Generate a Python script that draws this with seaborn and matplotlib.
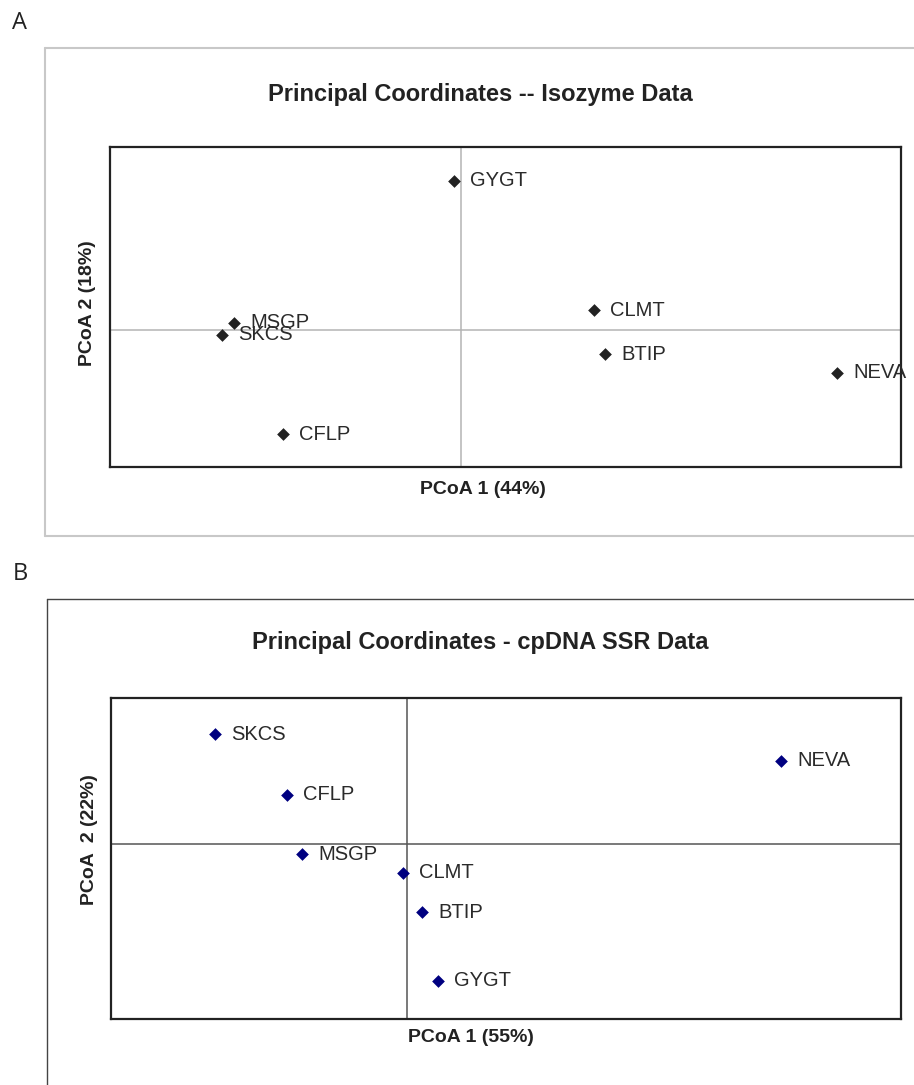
import numpy as np
import pandas as pd
import matplotlib
matplotlib.use("Agg")
import matplotlib.pyplot as plt
import seaborn as sns
from matplotlib.lines import Line2D

# Panel A -- isozyme data (PCoA scores, arbitrary units)
iso_sites = ["GYGT", "CLMT", "MSGP", "SKCS", "BTIP", "NEVA", "CFLP"]
iso_pc1 = [-0.007, 0.133, -0.227, -0.239, 0.144, 0.376, -0.178]
iso_pc2 = [0.149, 0.020, 0.007, -0.005, -0.024, -0.043, -0.104]

# Panel B -- cpDNA SSR data
ssr_sites = ["SKCS", "NEVA", "CFLP", "MSGP", "CLMT", "BTIP", "GYGT"]
ssr_pc1 = [-0.192, 0.374, -0.120, -0.105, -0.004, 0.015, 0.031]
ssr_pc2 = [0.110, 0.083, 0.049, -0.010, -0.029, -0.068, -0.137]

titles = ["Principal Coordinates -- Isozyme Data", "Principal Coordinates - cpDNA SSR Data"]
xlabels = ["PCoA 1 (44%)", "PCoA 1 (55%)"]
ylabels = ["PCoA 2 (18%)", "PCoA  2 (22%)"]

sns.set_theme(style="white")
plt.rcParams['font.family'] = ['Liberation Sans', 'DejaVu Sans']

W, H = 914, 1085
fig = plt.figure(figsize=(W / 100, H / 100), dpi=100)


def px(x, y):
    # pixel position in the picture -> figure fraction
    return x / W, 1 - y / H


def draw_panel(rect, sites, pc1, pc2, xlim, ylim, color, cross_color):
    ax = fig.add_axes(rect)
    df = pd.DataFrame({"site": sites, "pc1": pc1, "pc2": pc2})
    ax.axhline(0, color=cross_color, lw=1.1, zorder=1)
    ax.axvline(0, color=cross_color, lw=1.1, zorder=1)
    sns.scatterplot(data=df, x="pc1", y="pc2", marker="D", s=42, color=color,
                    edgecolor=color, linewidth=0, ax=ax, zorder=3)
    for _, r in df.iterrows():
        ax.annotate(r["site"], (r["pc1"], r["pc2"]), xytext=(11.5, 0),
                    textcoords="offset points", va="center", ha="left",
                    fontsize=14.5, color="#2a2a2a", zorder=4)
    ax.set_xlim(*xlim)
    ax.set_ylim(*ylim)
    ax.set_xticks([])
    ax.set_yticks([])
    ax.set_xlabel("")
    ax.set_ylabel("")
    for sp in ax.spines.values():
        sp.set_color("#222222")
        sp.set_linewidth(1.6)
    return ax


# panel A
draw_panel([110 / W, 1 - 467 / H, 791 / W, 320 / H], iso_sites, iso_pc1, iso_pc2,
           (-0.351, 0.440), (-0.137, 0.183), "#222222", "#b4b4b4")
# panel B
draw_panel([111 / W, 1 - 1019 / H, 790 / W, 321 / H], ssr_sites, ssr_pc1, ssr_pc2,
           (-0.2965, 0.4935), (-0.175, 0.146), "#000080", "#555555")

# outer frames
a_col = "#c8c8c8"
fig.add_artist(Line2D([45 / W, 1], [1 - 48 / H] * 2, color=a_col, lw=1.5))
fig.add_artist(Line2D([45 / W] * 2, [1 - 48 / H, 1 - 536 / H], color=a_col, lw=1.5))
fig.add_artist(Line2D([45 / W, 1], [1 - 536 / H] * 2, color=a_col, lw=1.5))
b_col = "#444444"
fig.add_artist(Line2D([47 / W, 1], [1 - 599 / H] * 2, color=b_col, lw=1.0))
fig.add_artist(Line2D([47 / W] * 2, [1 - 599 / H, 0], color=b_col, lw=1.0))

# panel letters
fig.text(*px(20, 23), "A", fontsize=17, family=["Open Sans", "DejaVu Sans"],
         color="#222222", ha="center", va="center")
fig.text(*px(20, 574), "B", fontsize=17, family=["Open Sans", "DejaVu Sans"],
         color="#222222", ha="center", va="center")

# titles and axis labels
fig.text(*px(480, 95), titles[0], fontsize=17, fontweight="bold", color="#222222",
         ha="center", va="center")
fig.text(*px(480, 643), titles[1], fontsize=17, fontweight="bold", color="#222222",
         ha="center", va="center")
fig.text(*px(483, 489), xlabels[0], fontsize=14, fontweight="bold", color="#222222",
         ha="center", va="center")
fig.text(*px(471, 1037), xlabels[1], fontsize=14, fontweight="bold", color="#222222",
         ha="center", va="center")
fig.text(*px(87.5, 303), ylabels[0], fontsize=14, fontweight="bold", color="#222222",
         ha="center", va="center", rotation=90)
fig.text(*px(90, 840), ylabels[1], fontsize=14, fontweight="bold", color="#222222",
         ha="center", va="center", rotation=90)

fig.savefig("out.png", dpi=100)
plt.close(fig)
